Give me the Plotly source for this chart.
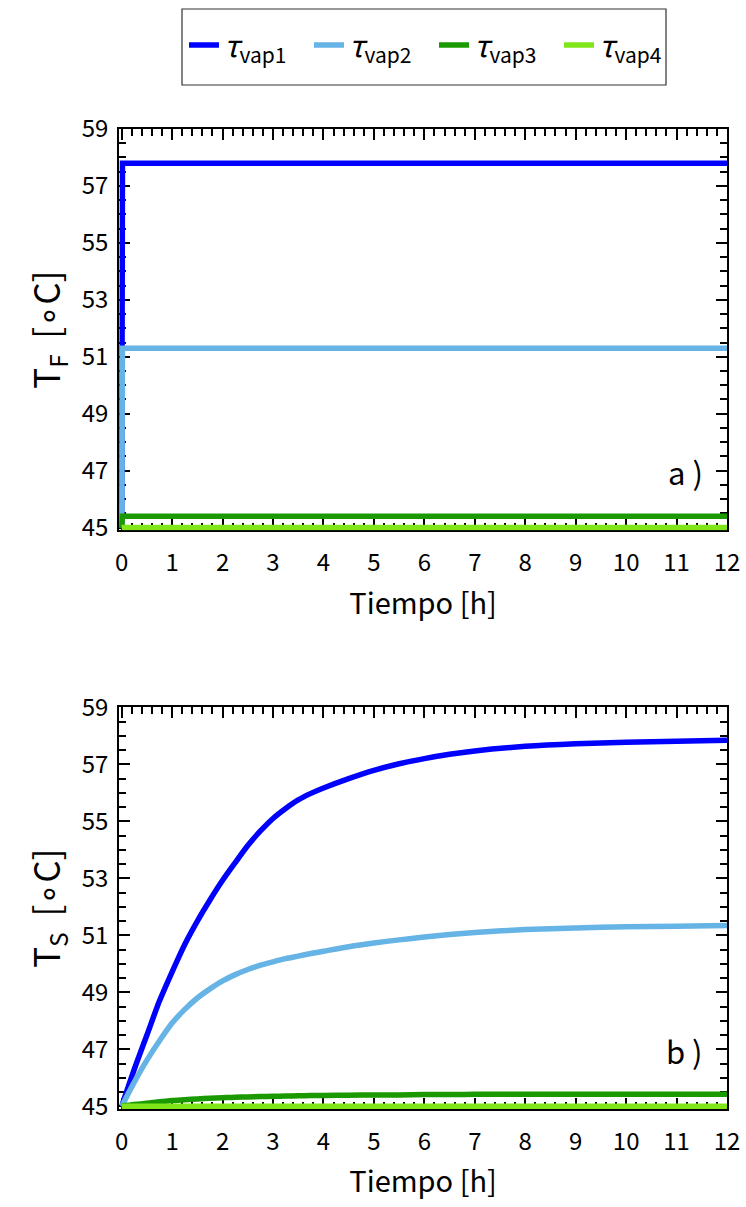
import plotly.graph_objects as go

# ---- data ---------------------------------------------------------------
series_names = ["vap1", "vap2", "vap3", "vap4"]
series_colors = ["#0000FF", "#66B3E6", "#1A9900", "#80E619"]

# feed temperature T_F: step response (instant jump after t = 0)
t_feed = [0.0, 0.015, 12.0]
tf_vap1 = [45.0, 57.8, 57.8]
tf_vap2 = [45.0, 51.3, 51.3]
tf_vap3 = [45.0, 45.4, 45.4]
tf_vap4 = [45.0, 45.0, 45.0]

# storage temperature T_S
t_store = [0, 0.25, 0.5, 0.75, 1, 1.25, 1.5, 1.75, 2, 2.25, 2.5, 2.75, 3,
           3.25, 3.5, 3.75, 4, 4.5, 5, 5.5, 6, 6.5, 7, 8, 9, 10, 11, 12]
ts_vap1 = [45.0, 46.3, 47.5, 48.7, 49.72, 50.68, 51.5, 52.24, 52.93, 53.55,
           54.15, 54.66, 55.1, 55.45, 55.75, 55.98, 56.17, 56.5, 56.79,
           57.02, 57.2, 57.35, 57.47, 57.63, 57.72, 57.77, 57.81, 57.84]
ts_vap2 = [45.0, 45.85, 46.62, 47.3, 47.92, 48.4, 48.8, 49.12, 49.4, 49.62,
           49.8, 49.95, 50.07, 50.18, 50.27, 50.36, 50.44, 50.6, 50.73,
           50.84, 50.94, 51.03, 51.1, 51.2, 51.26, 51.3, 51.32, 51.34]
ts_vap3 = [45.0, 45.06, 45.11, 45.16, 45.2, 45.23, 45.26, 45.28, 45.3, 45.32,
           45.33, 45.34, 45.35, 45.36, 45.37, 45.375, 45.38, 45.39, 45.4,
           45.4, 45.41, 45.41, 45.42, 45.42, 45.42, 45.42, 45.42, 45.42]
ts_vap4 = [45.0] * len(t_store)

x_ticks = list(range(0, 13))
y_ticks = [45, 47, 49, 51, 53, 55, 57, 59]

FONT = "Noto Sans CJK JP"

fig = go.Figure()

top_series = [tf_vap1, tf_vap2, tf_vap3, tf_vap4]
bot_series = [ts_vap1, ts_vap2, ts_vap3, ts_vap4]

for name, col, y in zip(series_names, series_colors, top_series):
    fig.add_trace(go.Scatter(
        x=t_feed, y=y, mode="lines", name=f"<i>τ</i><sub>{name}</sub>",
        line=dict(color=col, width=5.5),
        xaxis="x", yaxis="y", legendgroup=name, showlegend=True))

for name, col, y in zip(series_names, series_colors, bot_series):
    fig.add_trace(go.Scatter(
        x=t_store, y=y, mode="lines", name=name,
        line=dict(color=col, width=5.5, shape="spline", smoothing=0.8),
        xaxis="x2", yaxis="y2", legendgroup=name, showlegend=False))

W, H = 746, 1207
# axis ranges start a hair before 0 / 45 so the thick lines along the
# lower-left frame are drawn in full
X0, Y0 = -0.05, 44.9
px_per_h = (727.0 - 121.7) / 12.0
px_per_deg = (527.6 - 129.0) / 14.0
x_left = 121.7 + X0 * px_per_h
x_dom = [x_left / W, 727.0 / W]
y_top = [1 - (527.6 + (45 - Y0) * px_per_deg) / H, 1 - 129.0 / H]
y_bot = [1 - (1106.3 + (45 - Y0) * px_per_deg) / H, 1 - 707.3 / H]

tickfont = dict(family=FONT, size=24, color="black")


def xaxis(dom_anchor):
    return dict(
        domain=x_dom, anchor=dom_anchor, range=[X0, 12], automargin=False,
        tickmode="array", tickvals=x_ticks, ticktext=[str(v) for v in x_ticks],
        ticks="inside", ticklen=11, tickwidth=2, tickcolor="black",
        minor=dict(dtick=0.2, tick0=0, ticks="inside", ticklen=7,
                   tickwidth=2, tickcolor="black"),
        showline=True, linecolor="black", linewidth=2, mirror="ticks",
        showgrid=False, zeroline=False, layer="below traces",
        tickfont=tickfont, ticklabelstandoff=10,
        title=dict(text="Tiempo [h]",
                   font=dict(family=FONT, size=29, color="black"),
                   standoff=16),
    )


def yaxis(dom, anchor, title):
    return dict(
        domain=dom, anchor=anchor, range=[Y0, 59], automargin=False,
        tickmode="array", tickvals=y_ticks, ticktext=[str(v) for v in y_ticks],
        ticks="inside", ticklen=11, tickwidth=2, tickcolor="black",
        minor=dict(dtick=0.5, tick0=45, ticks="inside", ticklen=7,
                   tickwidth=2, tickcolor="black"),
        showline=True, linecolor="black", linewidth=2, mirror="ticks",
        showgrid=False, zeroline=False, layer="below traces",
        tickfont=tickfont, ticklabelstandoff=4,
        title=dict(text=title, font=dict(family=FONT, size=35, color="black"),
                   standoff=10),
    )


fig.update_layout(
    width=W, height=H,
    margin=dict(l=0, r=0, t=0, b=0, autoexpand=False),
    paper_bgcolor="white", plot_bgcolor="white",
    xaxis=xaxis("y"),
    yaxis=yaxis(y_top, "x", "T<sub>F</sub>\u00a0 [∘C]"),
    xaxis2=xaxis("y2"),
    yaxis2=yaxis(y_bot, "x2", "T<sub>S</sub>\u00a0 [∘C]"),
    showlegend=True,
    legend=dict(
        orientation="h", x=434 / W, xanchor="center",
        y=1 - 45 / H, yanchor="middle",
        font=dict(family=FONT, size=30, color="black"),
        bgcolor="rgba(0,0,0,0)", borderwidth=0,
        itemwidth=30, tracegroupgap=0, entrywidth=80,
    ),
    shapes=[dict(type="rect", xref="paper", yref="paper",
                 x0=182 / W, x1=666 / W, y0=1 - 85 / H, y1=1 - 9 / H,
                 line=dict(color="#333333", width=1.2))],
    annotations=[
        dict(text="a )", xref="paper", yref="paper", x=705 / W, y=1 - 472 / H,
             xanchor="right", yanchor="middle", showarrow=False,
             font=dict(family=FONT, size=31, color="black")),
        dict(text="b )", xref="paper", yref="paper", x=705 / W, y=1 - 1050 / H,
             xanchor="right", yanchor="middle", showarrow=False,
             font=dict(family=FONT, size=31, color="black")),
    ],
)

fig.write_html("out.html")
